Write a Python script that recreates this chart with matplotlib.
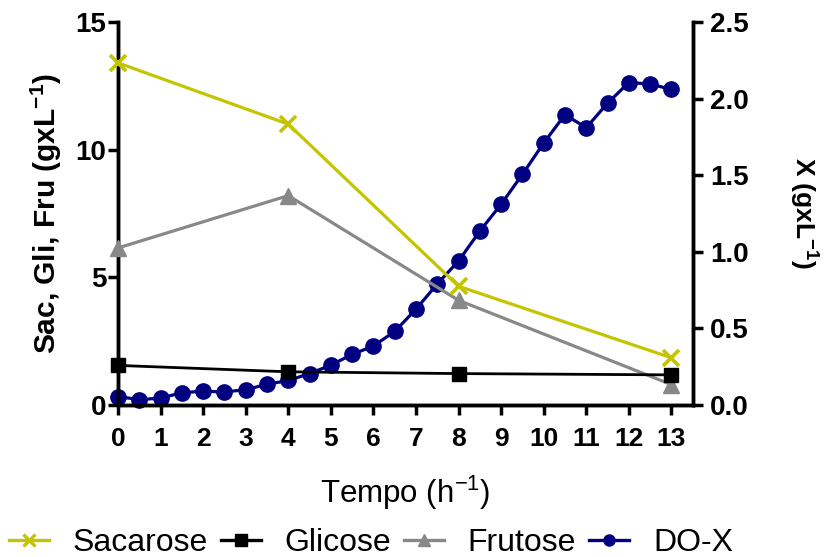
import matplotlib
matplotlib.use("Agg")
import matplotlib.pyplot as plt
from matplotlib.lines import Line2D

plt.rcParams["font.family"] = ["Liberation Sans", "DejaVu Sans"]
plt.rcParams["mathtext.fontset"] = "custom"
plt.rcParams["mathtext.rm"] = "Liberation Sans"
plt.rcParams["mathtext.bf"] = "Liberation Sans:bold"

# sugars (g/L), sampled at 0, 4, 8, 13 h
sugar_time = [0, 4, 8, 13]
sacarose = [13.4, 11.0, 4.65, 1.85]
glicose = [1.55, 1.3, 1.23, 1.18]
frutose = [6.15, 8.2, 4.1, 0.8]

# biomass from optical density (g/L)
dox_time = [0, 0.5, 1, 1.5, 2, 2.5, 3, 3.5, 4, 4.5, 5, 5.5, 6, 6.5,
            7, 7.5, 8, 8.5, 9, 9.5, 10, 10.5, 11, 11.5, 12, 12.5, 13]
do_x = [0.055, 0.035, 0.045, 0.08, 0.09, 0.085, 0.1, 0.135, 0.16, 0.205,
        0.26, 0.33, 0.385, 0.48, 0.625, 0.79, 0.94, 1.135, 1.31, 1.505,
        1.71, 1.895, 1.81, 1.97, 2.105, 2.095, 2.06]

x_ticks = list(range(0, 14))

yellow = "#C4C400"
gray = "#888888"
navy = "#000080"

fig = plt.figure(figsize=(8.39, 5.57), dpi=100)
ax = fig.add_axes([0.1406, 0.2729, 0.685, 0.6876])
ax2 = ax.twinx()

ax.plot(sugar_time, sacarose, color=yellow, lw=2.3, marker="x",
        ms=12, mew=2.6, zorder=4, clip_on=False)
ax.plot(sugar_time, glicose, color="black", lw=2.0, marker="s",
        ms=10.5, zorder=4, clip_on=False)
ax.plot(sugar_time, frutose, color=gray, lw=2.3, marker="^",
        ms=11, zorder=3, clip_on=False)
ax2.plot(dox_time, do_x, color=navy, lw=2.3, marker="o",
         ms=11, zorder=2, clip_on=False)

ax.set_zorder(ax2.get_zorder() + 1)
ax.patch.set_visible(False)

ax.set_xlim(0, 13.5)
ax.set_ylim(0, 15)
ax2.set_ylim(0, 2.5)
ax.set_xticks(x_ticks)
ax.set_yticks([0, 5, 10, 15])
ax2.set_yticks([0, 0.5, 1.0, 1.5, 2.0, 2.5])
ax2.set_yticklabels(["0.0", "0.5", "1.0", "1.5", "2.0", "2.5"])

for a in (ax, ax2):
    a.spines["top"].set_visible(False)
    for s in a.spines.values():
        s.set_linewidth(2.5)
    a.tick_params(width=2.5, length=7.5, labelsize=20, direction="out")
ax.tick_params(axis="x", pad=8, labelsize=19)
ax.tick_params(axis="y", pad=1)
ax2.tick_params(axis="y", pad=5)
for lab in ax.get_xticklabels() + ax.get_yticklabels() + ax2.get_yticklabels():
    lab.set_fontweight("bold")

ax.set_ylabel(r"Sac, Gli, Fru (gxL$^{\mathbf{-1}}$)", fontsize=21.5,
              fontweight="bold", labelpad=8)
ax2.set_ylabel(r"X (gxL$^{\mathbf{-1}}$)", fontsize=19, fontweight="bold",
               rotation=270, labelpad=52)
ax.set_xlabel(r"Tempo (h$^{-1}$)", fontsize=22.5, labelpad=17)

handles = [
    Line2D([], [], color=yellow, lw=2.4, marker="x", ms=9, mew=2.4),
    Line2D([], [], color="black", lw=2.4, marker="s", ms=8),
    Line2D([], [], color=gray, lw=2.4, marker="^", ms=8),
    Line2D([], [], color=navy, lw=2.4, marker="o", ms=8),
]
fig.legend(handles, ["Sacarose", "Glicose", "Frutose", "DO-X"],
           loc="center", bbox_to_anchor=(0.442, 14 / 557), ncol=4,
           frameon=False, fontsize=23, handlelength=1.25,
           columnspacing=0.4, handletextpad=0.75, borderpad=0)

fig.savefig("out.png", dpi=100)
